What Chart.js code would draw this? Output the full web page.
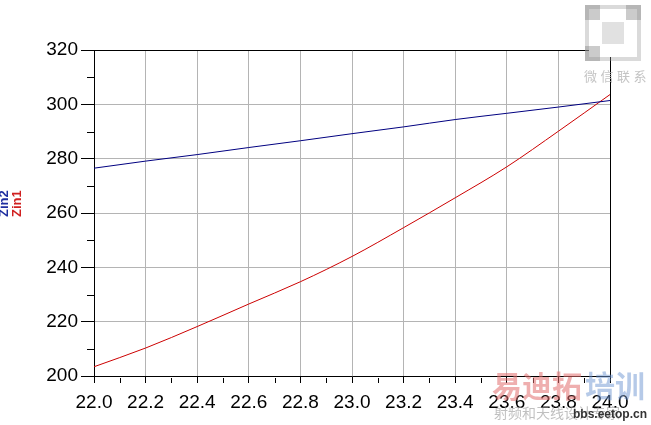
<!DOCTYPE html>
<html>
<head>
<meta charset="utf-8">
<script src="https://cdn.jsdelivr.net/npm/chart.js@4.4.1/dist/chart.umd.min.js"></script>
<style>
    html, body { margin: 0; padding: 0; background: #fff; }
    #wrap { width: 651px; height: 425px; }
</style>
</head>
<body>
<div id="wrap"><canvas id="zinChart" width="651" height="425"></canvas></div>
<script>
// ========================================
// データ
// ========================================
const freqs = [22.0, 22.2, 22.4, 22.6, 22.8, 23.0, 23.2, 23.4, 23.6, 23.8, 24.0];
const zin2 = [276.5, 279.1, 281.5, 284.1, 286.6, 289.2, 291.7, 294.4, 296.7, 299.0, 301.4];
const zin1 = [203.4, 210.3, 218.2, 226.5, 234.7, 244.0, 254.6, 265.6, 277.0, 290.1, 303.6];
const yTicks = [200, 220, 240, 260, 280, 300, 320];
const xMinorTicks = [22.1, 22.3, 22.5, 22.7, 22.9, 23.1, 23.3, 23.5, 23.7, 23.9];
const yMinorTicks = [210, 230, 250, 270, 290, 310];

const FONT = '"Liberation Sans", Arial, sans-serif';

function toPoints(xs, ys) {
    return xs.map((x, i) => ({ x: x, y: ys[i] }));
}

// ========================================
// 枠・副目盛・軸タイトル・透かし
// ========================================
const decorPlugin = {
    id: 'decor',
    afterDraw(chart) {
        const ctx = chart.ctx;
        const area = chart.chartArea;
        const xs = chart.scales.x;
        const ys = chart.scales.y;
        ctx.save();

        // 上・右の枠線
        ctx.strokeStyle = '#000';
        ctx.lineWidth = 1;
        ctx.beginPath();
        ctx.moveTo(area.left, area.top + 0.5);
        ctx.lineTo(area.right + 0.5, area.top + 0.5);
        ctx.lineTo(area.right + 0.5, area.bottom);
        ctx.stroke();

        // 副目盛
        ctx.beginPath();
        xMinorTicks.forEach(v => {
            const px = Math.round(xs.getPixelForValue(v)) + 0.5;
            ctx.moveTo(px, area.bottom + 2);
            ctx.lineTo(px, area.bottom + 7);
        });
        yMinorTicks.forEach(v => {
            const py = Math.round(ys.getPixelForValue(v)) + 0.5;
            ctx.moveTo(area.left - 7, py);
            ctx.lineTo(area.left, py);
        });
        ctx.stroke();

        // 軸タイトル（縦書き・2色）
        ctx.font = 'bold 13px ' + FONT;
        ctx.textBaseline = 'middle';
        ctx.textAlign = 'left';
        ctx.save();
        ctx.translate(4, 217);
        ctx.rotate(-Math.PI / 2);
        ctx.fillStyle = '#1f2fa0';
        ctx.fillText('Zin2', 0, 0);
        ctx.restore();
        ctx.save();
        ctx.translate(17, 217);
        ctx.rotate(-Math.PI / 2);
        ctx.fillStyle = '#d02020';
        ctx.fillText('Zin1', 0, 0);
        ctx.restore();

        // 透かし（QR・文字）
        ctx.fillStyle = 'rgba(150,150,150,0.35)';
        ctx.fillRect(585, 5, 56, 56);
        ctx.fillStyle = '#fff';
        ctx.fillRect(589, 9, 48, 48);
        ctx.fillStyle = 'rgba(140,140,140,0.45)';
        [[585, 5], [626, 5], [585, 46]].forEach(p => {
            ctx.fillRect(p[0], p[1], 15, 15);
        });
        ctx.fillStyle = 'rgba(170,170,170,0.35)';
        ctx.fillRect(602, 22, 22, 22);
        ctx.fillStyle = 'rgba(190,190,190,0.9)';
        ctx.font = '13px "Noto Sans CJK SC"';
        ctx.textBaseline = 'alphabetic';
        ['微', '信', '联', '系'].forEach((c, i) => ctx.fillText(c, 584 + i * 16.5, 81));

        ctx.font = 'bold 30px "Noto Sans CJK SC"';
        ctx.fillStyle = 'rgba(225,110,110,0.55)';
        ctx.fillText('易迪拓', 492, 397);
        ctx.fillStyle = 'rgba(110,150,210,0.5)';
        ctx.fillText('培训', 585, 397);
        ctx.font = '14px "Noto Sans CJK SC"';
        ctx.fillStyle = 'rgba(150,150,150,0.6)';
        ctx.fillText('射频和天线设计专家', 494, 418);
        ctx.font = 'bold 12px ' + FONT;
        ctx.fillStyle = '#333';
        ctx.fillText('bbs.eetop.cn', 573, 418);

        ctx.restore();
    }
};

// ========================================
// チャート
// ========================================
new Chart(document.getElementById('zinChart').getContext('2d'), {
    type: 'line',
    data: {
        datasets: [
            {
                label: 'Zin2',
                data: toPoints(freqs, zin2),
                borderColor: '#000080',
                borderWidth: 1,
                pointRadius: 0,
                cubicInterpolationMode: 'monotone',
                fill: false
            },
            {
                label: 'Zin1',
                data: toPoints(freqs, zin1),
                borderColor: '#cc0000',
                borderWidth: 1,
                pointRadius: 0,
                cubicInterpolationMode: 'monotone',
                fill: false
            }
        ]
    },
    plugins: [decorPlugin],
    options: {
        responsive: false,
        animation: false,
        events: [],
        layout: { padding: { top: 50, right: 41, left: 0, bottom: 0 } },
        plugins: {
            legend: { display: false },
            tooltip: { enabled: false }
        },
        scales: {
            x: {
                type: 'linear',
                min: 22,
                max: 24,
                afterBuildTicks(scale) {
                    scale.ticks = freqs.map(v => ({ value: v }));
                },
                afterFit(scale) { scale.height = 49; },
                ticks: {
                    color: '#000',
                    font: { family: FONT, size: 19 },
                    padding: 8,
                    maxRotation: 0,
                    autoSkip: false,
                    callback: v => Number(v).toFixed(1)
                },
                grid: {
                    color: '#b4b4b4',
                    tickColor: '#000',
                    tickLength: 7,
                    drawTicks: true
                },
                border: { color: '#000', width: 1 }
            },
            y: {
                min: 200,
                max: 320,
                afterBuildTicks(scale) {
                    scale.ticks = yTicks.map(v => ({ value: v }));
                },
                afterFit(scale) { scale.width = 94; },
                ticks: {
                    color: '#000',
                    font: { family: FONT, size: 19 },
                    padding: 3,
                    autoSkip: false
                },
                grid: {
                    color: '#b4b4b4',
                    tickColor: '#000',
                    tickLength: 13
                },
                border: { color: '#000', width: 1 }
            }
        }
    }
});
</script>
</body>
</html>
